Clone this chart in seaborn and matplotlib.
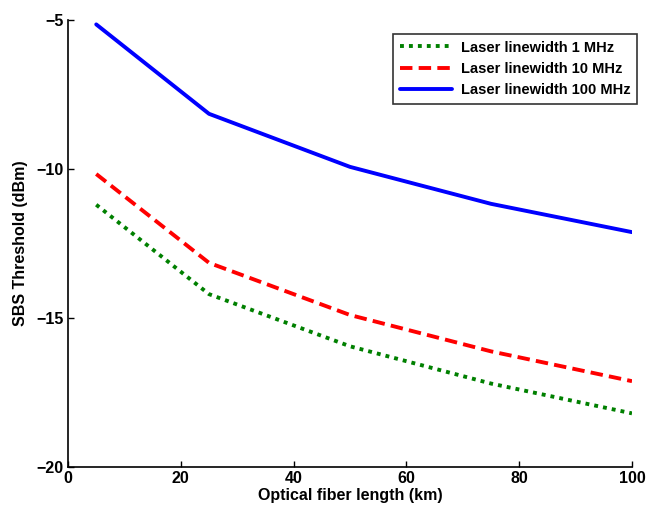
import matplotlib
matplotlib.use("Agg")
import matplotlib.pyplot as plt
import seaborn as sns
import pandas as pd

fiber_length_km = [5, 25, 50, 75, 100]
thr_1mhz = [-11.2, -14.2, -15.95, -17.2, -18.2]
thr_10mhz = [-10.17, -13.15, -14.9, -16.12, -17.12]
thr_100mhz = [-5.15, -8.15, -9.93, -11.17, -12.12]
series_labels = ["Laser linewidth 1 MHz", "Laser linewidth 10 MHz", "Laser linewidth 100 MHz"]
x_ticks = [0, 20, 40, 60, 80, 100]
y_ticks = [-20, -15, -10, -5]

sns.set_style("white")
plt.rcParams["font.family"] = ["Liberation Sans", "DejaVu Sans"]
plt.rcParams["font.weight"] = "bold"
plt.rcParams["axes.labelweight"] = "bold"
plt.rcParams["text.color"] = "black"
plt.rcParams["axes.labelcolor"] = "black"
plt.rcParams["xtick.color"] = "black"
plt.rcParams["ytick.color"] = "black"
plt.rcParams["xtick.direction"] = "in"
plt.rcParams["ytick.direction"] = "in"

fig = plt.figure(figsize=(6.56, 5.11), dpi=100)
ax = fig.add_axes([0.1037, 0.0861, 0.8597, 0.8749])

styles = [
    dict(color="#008000", linestyle=(0, (1.0, 1.3))),
    dict(color="#ff0000", linestyle=(0, (3.2, 1.6))),
    dict(color="#0000ff", linestyle="-"),
]
for vals, lab, st in zip([thr_1mhz, thr_10mhz, thr_100mhz], series_labels, styles):
    df = pd.DataFrame({"x": fiber_length_km, "y": vals})
    sns.lineplot(data=df, x="x", y="y", ax=ax, label=lab, linewidth=2.8,
                 color=st["color"], linestyle=st["linestyle"])

ax.set_xlim(0, 100)
ax.set_ylim(-20, -5)
ax.set_xticks(x_ticks)
ax.set_yticks(y_ticks)
ax.set_yticklabels(["\u221220", "\u221215", "\u221210", "\u22125"])
ax.tick_params(direction="in", length=4, width=1, labelsize=11.5, colors="black",
               bottom=True, left=True, pad=3)
for lbl in ax.get_xticklabels() + ax.get_yticklabels():
    lbl.set_fontweight("bold")
ax.spines["top"].set_visible(False)
ax.spines["right"].set_visible(False)
for s in ["left", "bottom"]:
    ax.spines[s].set_color("black")
    ax.spines[s].set_linewidth(1.2)
ax.set_xlabel("Optical fiber length (km)", fontsize=11.5, fontweight="bold", color="black", labelpad=1)
ax.set_ylabel("SBS Threshold (dBm)", fontsize=11.5, fontweight="bold", color="black", labelpad=6)

leg = ax.legend(loc="upper right", bbox_to_anchor=(637/656, 1 - 34/511),
                bbox_transform=fig.transFigure, frameon=True, fancybox=False,
                prop={"size": 10.5, "weight": "bold"}, handlelength=3.6,
                borderpad=0.45, labelspacing=0.5, handletextpad=0.6,
                borderaxespad=0)
leg.get_frame().set_edgecolor("black")
leg.get_frame().set_linewidth(1.2)
for t in leg.get_texts():
    t.set_color("black")

fig.savefig("out.png", dpi=100)
